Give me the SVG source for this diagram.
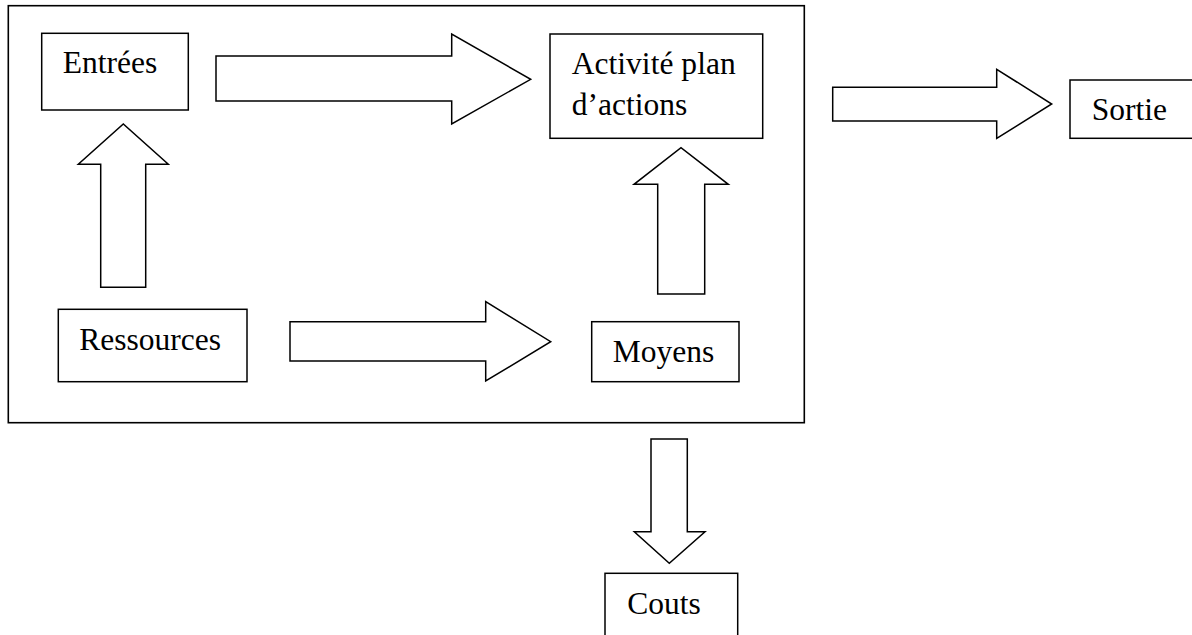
<svg xmlns="http://www.w3.org/2000/svg" width="1192" height="635" viewBox="0 0 1192 635">
<style>
.box{fill:#fff;stroke:#000;stroke-width:1.5}
.frame{fill:none;stroke:#000;stroke-width:1.6}
.arrow{fill:#fff;stroke:#000;stroke-width:1.5;stroke-linejoin:miter}
.lbl{font-family:"Liberation Serif","Times New Roman",serif;font-size:31.5px;fill:#000}
</style>
<rect width="1192" height="635" fill="#fff"/>
<g id="frame">
<rect class="frame" x="8.3" y="5.7" width="796" height="417"/>
</g>
<g id="connectors">
<polygon class="arrow" points="216,56 451.7,56 451.7,34 530.7,79.3 451.7,124 451.7,101 216,101"/>
<polygon class="arrow" points="100.7,287.3 100.7,164.3 78.3,164.3 123.3,124 168.3,164.3 145.7,164.3 145.7,287.3"/>
<polygon class="arrow" points="290,321.7 485.7,321.7 485.7,301.7 550.7,341.7 485.7,381 485.7,361 290,361"/>
<polygon class="arrow" points="657.7,294 657.7,184.3 634,184.3 681,147.7 728.3,184.3 704.7,184.3 704.7,294"/>
<polygon class="arrow" points="832.7,87.3 996.7,87.3 996.7,69.3 1051.7,104 996.7,138.3 996.7,121 832.7,121"/>
<polygon class="arrow" points="651,439 687.3,439 687.3,531.7 705,531.7 669.3,563.3 634.3,531.7 651,531.7"/>
</g>
<g id="entrees">
<rect class="box" x="41.7" y="33.3" width="146.6" height="76.7"/>
<text class="lbl" x="62.7" y="73.3">Entrées</text>
</g>
<g id="activite">
<rect class="box" x="550" y="34" width="212.7" height="104.3"/>
<text class="lbl" x="571.7" y="74" textLength="164" lengthAdjust="spacing">Activité plan</text>
<text class="lbl" x="571.7" y="115">d’actions</text>
</g>
<g id="sortie">
<rect class="box" x="1070" y="80" width="130" height="58.3"/>
<text class="lbl" x="1091.7" y="120">Sortie</text>
</g>
<g id="ressources">
<rect class="box" x="58.3" y="309.3" width="188.7" height="72.4"/>
<text class="lbl" x="79.3" y="350">Ressources</text>
</g>
<g id="moyens">
<rect class="box" x="591.7" y="321.7" width="147.3" height="60"/>
<text class="lbl" x="612.7" y="361.7">Moyens</text>
</g>
<g id="couts">
<rect class="box" x="605" y="573.3" width="132.7" height="70"/>
<text class="lbl" x="627.3" y="614.3">Couts</text>
</g>
</svg>
